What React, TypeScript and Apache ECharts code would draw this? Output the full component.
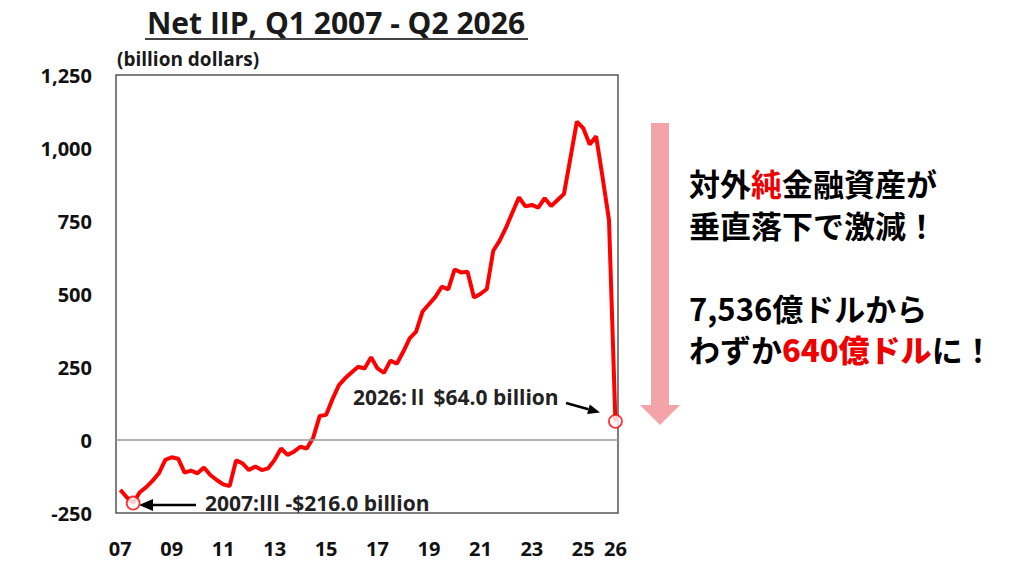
import React, { useEffect, useRef } from "react";
import * as echarts from "echarts";

// ---- Data ----
const years: number[] = [2007, 2008, 2009, 2010, 2011, 2012, 2013, 2014, 2015, 2016, 2017, 2018, 2019, 2020, 2021, 2022, 2023, 2024, 2025, 2026];
const quarterNames: string[] = ["Q1", "Q2", "Q3", "Q4"];
const quarters: string[] = years.flatMap((y) => quarterNames.map((q) => `${y}${q}`)).slice(0, 78);

// Net IIP, billion dollars, 2007Q1 .. 2026Q2
const netIIP: number[] = [
  -171, -196, -216, -180,
  -162, -140, -114, -68,
  -59, -64, -112, -105,
  -114, -94, -120, -137,
  -152, -158, -70, -80,
  -103, -91, -103, -97,
  -68, -29, -51, -40,
  -23, -29, 8, 82,
  86, 140, 188, 212,
  232, 251, 245, 283,
  245, 230, 272, 261,
  302, 348, 371, 440,
  465, 490, 525, 516,
  584, 574, 576, 488,
  500, 517, 648, 683,
  728, 780, 831, 800,
  805, 796, 828, 801,
  822, 843, 965, 1090,
  1068, 1012, 1040, 900,
  754, 64,
];

const xTickIndex: number[] = [0, 8, 16, 24, 32, 40, 48, 56, 64, 72, 77];
const xTickLabels: string[] = ["07", "09", "11", "13", "15", "17", "19", "21", "23", "25", "26"];
const yTicks: number[] = [-250, 0, 250, 500, 750, 1000, 1250];
const yTickLabels: string[] = ["-250", "0", "250", "500", "750", "1,000", "1,250"];

const lowIdx = 2;
const lastIdx = 77;
const lowLabel = "2007:Ⅲ -$216.0 billion";
const lastLabel = "2026:Ⅱ $64.0 billion";
const titleText = "Net IIP, Q1 2007 - Q2 2026";
const unitText = "(billion dollars)";

const LAT = "'Open Sans', 'Noto Sans CJK JP', sans-serif";
const JP = "'Noto Sans CJK JP', sans-serif";

export default function App() {
  const ref = useRef<HTMLDivElement>(null);

  useEffect(() => {
    if (!ref.current) return;
    const chart = echarts.init(ref.current, undefined, { renderer: "svg" });

    const axisFont = { fontSize: 20, fontWeight: "bold" as const, color: "#111", fontFamily: LAT };

    const jpBase = { fontSize: 31, lineHeight: 38, fontFamily: JP, fill: "#000", fontWeight: "bold" as const };
    const jpRed = { fontSize: 31, lineHeight: 38, fontFamily: JP, fill: "#ee0000", fontWeight: "bold" as const };
    const jpRedBold = { fontSize: 31, lineHeight: 38, fontFamily: JP, fill: "#ee0000", fontWeight: 900 };

    // arrow for last annotation
    const ax1 = 566, ay1 = 403, tx = 600, ty = 412.5;
    const dx = tx - ax1, dy = ty - ay1;
    const len = Math.sqrt(dx * dx + dy * dy);
    const ux = dx / len, uy = dy / len;
    const bx = tx - 12 * ux, by = ty - 12 * uy;
    const px = -uy, py = ux;

    const annFont = {
      fontSize: 21,
      fontWeight: "bold",
      fontFamily: LAT,
      fill: "#222",
      align: "left",
      verticalAlign: "middle",
      textAlign: "left",
      textVerticalAlign: "middle",
    };

    const option: any = {
      animation: false,
      backgroundColor: "#ffffff",
      grid: {
        left: 116,
        top: 75,
        width: 502,
        height: 438,
        show: true,
        borderColor: "#555",
        borderWidth: 1.5,
        backgroundColor: "transparent",
      },
      xAxis: {
        type: "value",
        min: -0.67,
        max: 77.4,
        axisLine: { show: false },
        axisTick: { show: false },
        splitLine: { show: false },
        axisLabel: {
          ...axisFont,
          margin: 25,
          customValues: xTickIndex,
          formatter: (v: number) => {
            const k = xTickIndex.indexOf(Math.round(v));
            return k >= 0 ? xTickLabels[k] : "";
          },
        },
      },
      yAxis: {
        type: "value",
        min: -250,
        max: 1250,
        interval: 250,
        axisLine: { show: false },
        axisTick: { show: false },
        splitLine: { show: false },
        axisLabel: {
          ...axisFont,
          margin: 24,
          formatter: (v: number) => {
            const k = yTicks.indexOf(v);
            return k >= 0 ? yTickLabels[k] : String(v);
          },
        },
      },
      series: [
        {
          type: "line",
          name: "Net IIP",
          data: netIIP.map((v, i) => [i, v, quarters[i]]),
          symbol: "none",
          lineStyle: { color: "#ff0000", width: 4 },
          z: 3,
          markLine: {
            silent: true,
            symbol: "none",
            label: { show: false },
            lineStyle: { color: "#9a9a9a", width: 1.5, type: "solid" },
            data: [{ yAxis: 0 }],
          },
        },
        {
          type: "scatter",
          data: [
            [lowIdx, netIIP[lowIdx]],
            [lastIdx, netIIP[lastIdx]],
          ],
          symbol: "circle",
          symbolSize: 13,
          itemStyle: { color: "#ffffff", borderColor: "#ff0000", borderWidth: 1.8 },
          z: 5,
        },
      ],
      graphic: [
        {
          type: "text",
          x: 336,
          y: 22,
          style: {
            text: titleText,
            fontSize: 30,
            fontWeight: "bold",
            fontFamily: LAT,
            fill: "#1a1a1a",
            align: "center",
            verticalAlign: "middle",
            textAlign: "center",
            textVerticalAlign: "middle",
          },
        },
        {
          type: "line",
          shape: { x1: 145, y1: 39, x2: 528, y2: 39 },
          style: { stroke: "#444", lineWidth: 2 },
        },
        {
          type: "text",
          x: 117,
          y: 59,
          style: {
            text: unitText,
            fontSize: 19,
            fontWeight: "bold",
            fontFamily: LAT,
            fill: "#1a1a1a",
            align: "left",
            verticalAlign: "middle",
            textAlign: "left",
            textVerticalAlign: "middle",
          },
        },
        // low annotation
        {
          type: "line",
          shape: { x1: 196, y1: 505, x2: 150, y2: 505 },
          style: { stroke: "#000", lineWidth: 2.5 },
        },
        {
          type: "polygon",
          shape: { points: [[139, 505], [153, 499], [153, 511]] },
          style: { fill: "#000" },
        },
        {
          type: "text",
          x: 205,
          y: 503,
          style: { text: lowLabel, ...annFont },
        },
        // last annotation
        {
          type: "text",
          x: 353,
          y: 397,
          style: { text: lastLabel, ...annFont },
        },
        {
          type: "line",
          shape: { x1: ax1, y1: ay1, x2: bx, y2: by },
          style: { stroke: "#000", lineWidth: 2.5 },
        },
        {
          type: "polygon",
          shape: { points: [[tx, ty], [bx + 5 * px, by + 5 * py], [bx - 5 * px, by - 5 * py]] },
          style: { fill: "#000" },
        },
        // pink arrow
        {
          type: "rect",
          shape: { x: 651, y: 123, width: 18, height: 283 },
          style: { fill: "#f4a3a8" },
        },
        {
          type: "polygon",
          shape: { points: [[640, 405], [680, 405], [660, 425]] },
          style: { fill: "#f4a3a8" },
        },
        // right side texts
        {
          type: "text",
          x: 689,
          y: 182,
          style: {
            text: "{k|対外}{r|純}{k|金融資産が}",
            verticalAlign: "middle",
            textVerticalAlign: "middle",
            rich: { k: jpBase, r: jpRed },
          },
        },
        {
          type: "text",
          x: 689,
          y: 224,
          style: {
            text: "{k|垂直落下で激減！}",
            verticalAlign: "middle",
            textVerticalAlign: "middle",
            rich: { k: jpBase },
          },
        },
        {
          type: "text",
          x: 689,
          y: 307,
          style: {
            text: "{k|7,536億ドルから}",
            verticalAlign: "middle",
            textVerticalAlign: "middle",
            rich: { k: jpBase },
          },
        },
        {
          type: "text",
          x: 689,
          y: 348,
          style: {
            text: "{k|わずか}{r|640億ドル}{k|に！}",
            verticalAlign: "middle",
            textVerticalAlign: "middle",
            rich: { k: jpBase, r: jpRedBold },
          },
        },
      ],
    };

    chart.setOption(option);
    return () => chart.dispose();
  }, []);

  return (
    <div
      ref={ref}
      style={{ position: "fixed", left: 0, top: 0, width: 1024, height: 576, background: "#fff" }}
    />
  );
}
